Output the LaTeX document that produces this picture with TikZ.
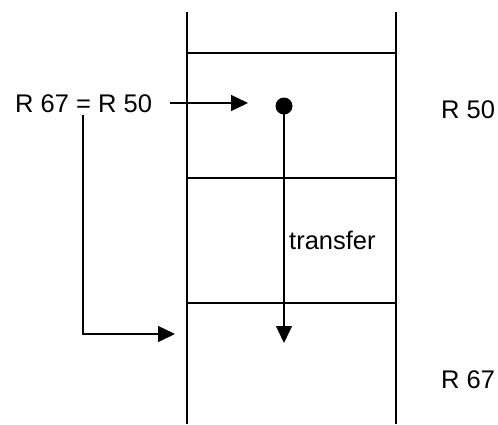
\documentclass[tikz,border=0pt]{standalone}
\usepackage{fontspec}
\setmainfont{Liberation Sans}
\usetikzlibrary{arrows.meta}
\begin{document}
\begin{tikzpicture}[x=1pt,y=-1pt,
  ln/.style={line width=1.4pt},
  arr/.style={ln,-{Triangle[length=17pt,width=16pt]}},
  lbl/.style={inner sep=0pt,font=\fontsize{25.5}{30}\selectfont}]
\useasboundingbox (0,0) rectangle (498,424);
% stack
\draw[ln] (187,12) -- (187,424);
\draw[ln] (396,12) -- (396,424);
\draw[ln] (187,53) -- (396,53);
\draw[ln] (187,178) -- (396,178);
\draw[ln] (187,303) -- (396,303);
% labels
\node[lbl,anchor=base west] (eq) at (15,112) {R 67 = R 50};
\node[lbl,anchor=base west] (r50) at (441,118) {R 50};
\node[lbl,anchor=base west] (r67) at (441,388) {R 67};
\node[lbl,anchor=base west] (tr) at (289,249) {transfer};
% dot and transfer arrow
\node[circle,fill=black,inner sep=0pt,minimum size=17pt] (dot) at (284,106) {};
\coordinate (t67) at (284,343);
\draw[arr] (dot.center) -- (t67);
% assignment arrow
\coordinate (a0) at (170,103);
\coordinate (a1) at (248,103);
\draw[arr] (a0) -- (a1);
% bracket arrow
\coordinate (b0) at (83,115);
\coordinate (b1) at (83,334);
\coordinate (b2) at (175,334);
\draw[arr] (b0) -- (b1) -- (b2);
\end{tikzpicture}
\end{document}
